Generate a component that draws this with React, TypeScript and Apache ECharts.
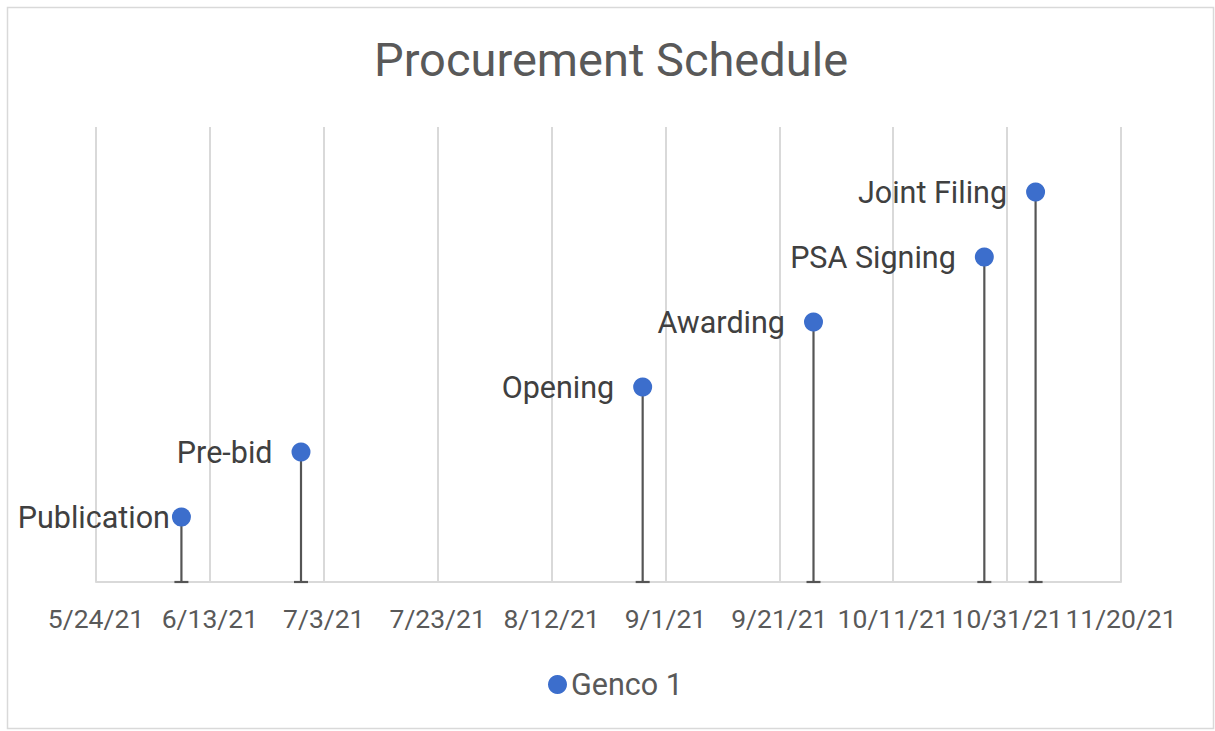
import React, { useEffect, useRef } from "react";
import * as echarts from "echarts";

const START_DATE = "5/24/21";
const tickLabels = ["5/24/21", "6/13/21", "7/3/21", "7/23/21", "8/12/21", "9/1/21", "9/21/21", "10/11/21", "10/31/21", "11/20/21"];
const milestoneNames = ["Publication", "Pre-bid", "Opening", "Awarding", "PSA Signing", "Joint Filing"];
const milestoneDates = ["6/8/21", "6/29/21", "8/28/21", "9/27/21", "10/27/21", "11/5/21"];
const milestoneLevels = [1, 2, 3, 4, 5, 6];
const seriesName = "Genco 1";

const FONT = "Roboto, 'Liberation Sans', Arial, sans-serif";

function parseDate(s: string): number {
  const [m, d, y] = s.split("/").map(Number);
  return Date.UTC(2000 + y, m - 1, d);
}
const DAY = 86400000;
const startMs = parseDate(START_DATE);
const dayOffset = (s: string) => Math.round((parseDate(s) - startMs) / DAY);

export default function App() {
  const ref = useRef<HTMLDivElement>(null);
  useEffect(() => {
    if (!ref.current) return;
    const chart = echarts.init(ref.current, null, { renderer: "svg" });
    const points = milestoneDates.map((d, i) => ({
      name: milestoneNames[i],
      value: [dayOffset(d), milestoneLevels[i]],
      label: i === 0 ? { distance: 2 } : undefined,
    }));
    chart.setOption({
      animation: false,
      backgroundColor: "#ffffff",
      title: {
        text: "Procurement Schedule",
        left: 369,
        top: 31,
        textStyle: { fontFamily: FONT, fontSize: 47, fontWeight: "normal", color: "#595959" },
      },
      graphic: [
        {
          type: "rect",
          shape: { x: 7.5, y: 7.5, width: 1206, height: 721 },
          style: { fill: "none", stroke: "#d9d9d9", lineWidth: 1.5 },
          silent: true,
        },
      ],
      legend: {
        data: [seriesName],
        top: 664,
        left: 543,
        icon: "circle",
        itemWidth: 19,
        itemHeight: 19,
        itemGap: 10,
        textStyle: { fontFamily: FONT, fontSize: 30.5, color: "#595959", padding: [0, 0, 0, -1] },
      },
      grid: { left: 96, right: 94, top: 127, bottom: 149 },
      xAxis: {
        type: "value",
        min: 0,
        max: 180,
        interval: 20,
        axisLine: { show: true, lineStyle: { color: "#d9d9d9", width: 2 } },
        axisTick: { show: false },
        splitLine: { show: true, lineStyle: { color: "#d9d9d9", width: 2 } },
        axisLabel: {
          margin: 23,
          fontFamily: FONT,
          fontSize: 26.5,
          color: "#595959",
          formatter: (v: number) => tickLabels[Math.round(v / 20)] ?? "",
        },
      },
      yAxis: { type: "value", min: 0, max: 7, show: false, splitLine: { show: false } },
      series: [
        {
          type: "custom",
          name: "drop",
          silent: true,
          z: 1,
          data: points.map((p) => p.value),
          renderItem: (params: any, api: any) => {
            const p = api.coord([api.value(0), api.value(1)]);
            const b = api.coord([api.value(0), 0]);
            return {
              type: "group",
              children: [
                {
                  type: "line",
                  shape: { x1: p[0], y1: p[1], x2: b[0], y2: b[1] },
                  style: { stroke: "#555555", lineWidth: 2.2 },
                },
                {
                  type: "line",
                  shape: { x1: b[0] - 7, y1: b[1], x2: b[0] + 7, y2: b[1] },
                  style: { stroke: "#555555", lineWidth: 2.2 },
                },
              ],
            };
          },
        },
        {
          type: "scatter",
          name: seriesName,
          z: 3,
          symbol: "circle",
          symbolSize: 19,
          itemStyle: { color: "#3c6ecc", opacity: 1 },
          data: points,
          label: {
            show: true,
            position: "left",
            distance: 19,
            formatter: (p: any) => p.name,
            fontFamily: FONT,
            fontSize: 30.5,
            color: "#404040",
          },
        },
      ],
    });
    return () => chart.dispose();
  }, []);
  return (
    <div
      ref={ref}
      style={{ position: "fixed", left: 0, top: 0, width: 1215, height: 731 }}
    />
  );
}
